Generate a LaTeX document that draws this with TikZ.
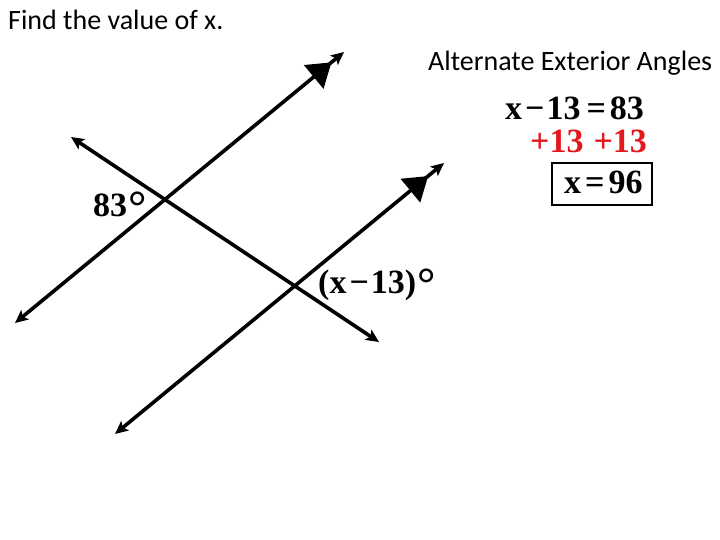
\documentclass[tikz,border=0pt]{standalone}
\usepackage{fontspec}
\setmainfont{Carlito}
\newfontfamily\eqfont{Liberation Serif}
\usetikzlibrary{arrows.meta,decorations.markings}
\definecolor{eqred}{RGB}{228,24,28}
\newcommand{\bigdeg}{{\fontsize{46}{46}\selectfont\raisebox{-6pt}{°}}}
\tikzset{
  parline/.style={line width=3.6pt, {Stealth[length=13pt,width=12pt,inset=3pt]}-{Stealth[length=13pt,width=12pt,inset=3pt]}},
  midtri/.style={postaction={decorate},decoration={markings,
      mark=at position #1 with {\arrow{Triangle[length=23pt,width=30pt]}}}},
  label/.style={inner sep=0pt, anchor=base west, font=\fontsize{28}{32}\selectfont},
  eq/.style={inner sep=0pt, anchor=base west, font=\eqfont\bfseries\fontsize{34}{38}\selectfont},
  ansbox/.style={draw, line width=2.4pt}
}
\begin{document}
\begin{tikzpicture}[x=1pt,y=-1pt]
\useasboundingbox (0,0) rectangle (720,540);
% line endpoints
\coordinate (a1) at (15,323);
\coordinate (a2) at (344,52);
\coordinate (b1) at (115,434);
\coordinate (b2) at (444,163);
\coordinate (t1) at (71,137);
\coordinate (t2) at (379,342);
\draw[parline, midtri=0.962] (a1) -- (a2);
\draw[parline, midtri=0.952] (b1) -- (b2);
\draw[parline] (t1) -- (t2);
% texts
\node[label] (title) at (8,30) {Find the value of x.};
\node[label] (kind) at (428,71) {Alternate Exterior Angles};
\node[eq] (e1) at (505,120) {x\hspace{3pt}−\hspace{2pt}13\hspace{6pt}=\hspace{4pt}83};
\node[eq, text=eqred] (e2) at (530,153) {+13\hspace{10pt}+13};
\node[eq] (e3) at (564,194) {x\hspace{4pt}=\hspace{4pt}96};
\node[ansbox, inner sep=0pt, minimum width=100pt, minimum height=42pt] (box) at (602,184) {};
\node[eq] (ang1) at (93,216) {83\hspace{1pt}\bigdeg};
\node[eq] (ang2) at (318,293) {(x\hspace{3pt}−\hspace{2pt}13)\hspace{1pt}\bigdeg};
\end{tikzpicture}
\end{document}
